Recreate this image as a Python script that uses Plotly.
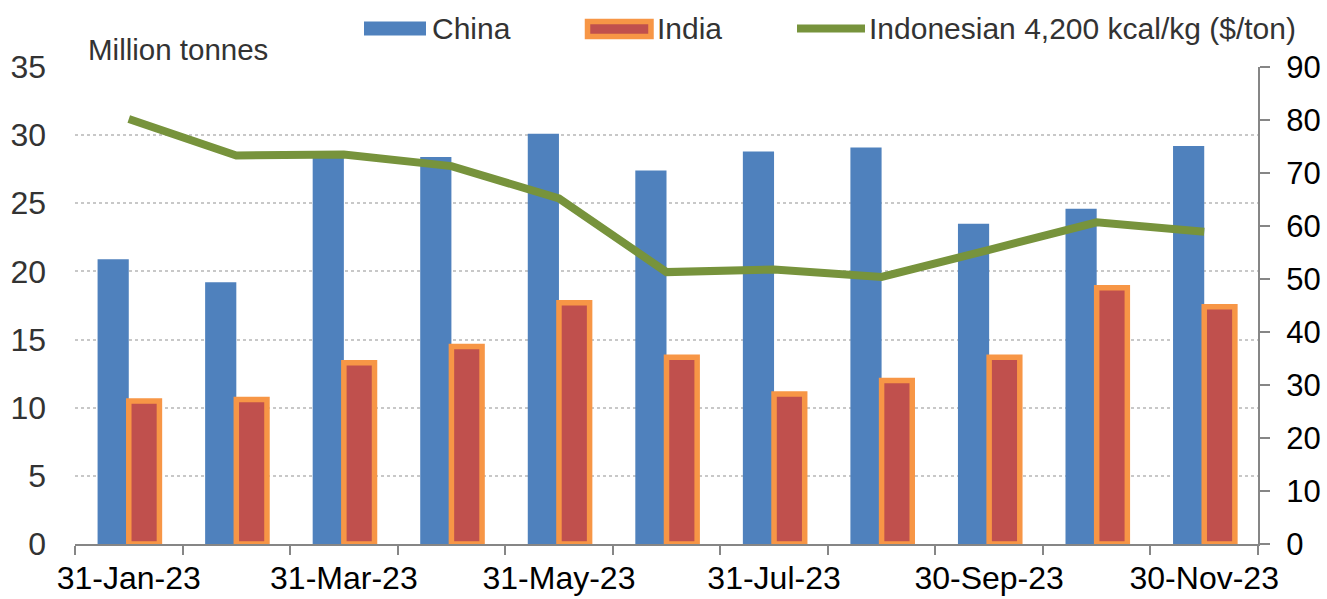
import plotly.graph_objects as go

# ---- data ----
categories = ["31-Jan-23", "28-Feb-23", "31-Mar-23", "30-Apr-23", "31-May-23", "30-Jun-23",
              "31-Jul-23", "31-Aug-23", "30-Sep-23", "31-Oct-23", "30-Nov-23"]
china = [20.9, 19.2, 28.6, 28.4, 30.1, 27.4, 28.8, 29.1, 23.5, 24.6, 29.2]
india = [10.5, 10.6, 13.3, 14.5, 17.7, 13.7, 11.0, 12.0, 13.7, 18.8, 17.4]
coal_price = [80.2, 73.3, 73.5, 71.3, 65.2, 51.3, 51.8, 50.4, 55.5, 60.7, 58.9]
left_ticks = [0, 5, 10, 15, 20, 25, 30, 35]
right_ticks = [0, 10, 20, 30, 40, 50, 60, 70, 80, 90]
label_every = 2

# ---- geometry ----
W, H = 1327, 599
PL, PR, PT, PB = 75, 1258, 66.5, 544
FONT = "Liberation Sans, Arial, sans-serif"
BLUE, RED, ORANGE, GREEN = "#4F81BD", "#C0504D", "#F79646", "#77933C"
AXIS_GRAY = "#868686"

def px(x):
    return (x - PL) / (PR - PL)

def py(y):
    return (PB - y) / (PB - PT)

xs = list(range(len(categories)))

fig = go.Figure()
fig.add_trace(go.Bar(x=xs, y=china, name="China", marker=dict(color=BLUE, line=dict(width=0)),
                     width=0.29, offset=-0.29, showlegend=False))
fig.add_trace(go.Bar(x=xs, y=india, name="India",
                     marker=dict(color=RED, line=dict(color=ORANGE, width=5.5)),
                     width=0.285, offset=0.0, showlegend=False))
fig.add_trace(go.Scatter(x=xs, y=coal_price, name="Indonesian 4,200 kcal/kg ($/ton)", mode="lines",
                         line=dict(color=GREEN, width=8), yaxis="y2", showlegend=False))

fig.update_layout(
    width=W, height=H,
    margin=dict(l=PL, r=W - PR, t=PT, b=H - PB, autoexpand=False),
    paper_bgcolor="white", plot_bgcolor="white",
    barmode="overlay",
    font=dict(family=FONT, size=30, color="#333333"),
    xaxis=dict(
        range=[-0.5, len(categories) - 0.5],
        tickmode="array",
        tickvals=xs[::label_every],
        ticktext=categories[::label_every],
        ticks="", showgrid=False, zeroline=False,
        showline=True, linecolor=AXIS_GRAY, linewidth=2,
        tickfont=dict(size=32, color="#000000"),
        ticklabelstandoff=5,
        minor=dict(tick0=-0.5, dtick=1, ticks="outside", ticklen=9, tickwidth=2,
                   tickcolor=AXIS_GRAY, showgrid=False),
    ),
    yaxis=dict(
        range=[0, 35], tickmode="array", tickvals=left_ticks,
        showgrid=True, gridcolor="#C8C8C8", gridwidth=1.5, griddash="dot",
        zeroline=False, showline=False, ticks="",
        tickfont=dict(size=32, color="#333333"),
        ticklabelstandoff=28,
    ),
    yaxis2=dict(
        range=[0, 90], tickmode="array", tickvals=right_ticks,
        overlaying="y", side="right", showgrid=False, zeroline=False,
        showline=True, linecolor=AXIS_GRAY, linewidth=2,
        ticks="outside", ticklen=10, tickwidth=2, tickcolor=AXIS_GRAY,
        tickfont=dict(size=31, color="#000000"),
        ticklabelstandoff=10,
    ),
)

shapes = [
    dict(type="rect", xref="paper", yref="paper", x0=px(364), x1=px(426), y0=py(35), y1=py(21),
         fillcolor=BLUE, line=dict(width=0)),
    dict(type="rect", xref="paper", yref="paper", x0=px(587.5), x1=px(651), y0=py(36), y1=py(21),
         fillcolor=RED, line=dict(color=ORANGE, width=5.5)),
    dict(type="line", xref="paper", yref="paper", x0=px(797), x1=px(865), y0=py(28), y1=py(28),
         line=dict(color=GREEN, width=8)),
]
annotations = [
    dict(text="China", x=px(430), y=py(28), xref="paper", yref="paper", xanchor="left", yanchor="middle",
         showarrow=False, font=dict(size=30, color="#333333")),
    dict(text="India", x=px(655), y=py(28), xref="paper", yref="paper", xanchor="left", yanchor="middle",
         showarrow=False, font=dict(size=30, color="#333333")),
    dict(text="Indonesian 4,200 kcal/kg ($/ton)", x=px(867), y=py(28), xref="paper", yref="paper",
         xanchor="left", yanchor="middle", showarrow=False, font=dict(size=30, color="#333333")),
    dict(text="Million tonnes", x=px(86), y=py(49), xref="paper", yref="paper", xanchor="left",
         yanchor="middle", showarrow=False, font=dict(size=29.5, color="#333333")),
]
fig.update_layout(shapes=shapes, annotations=annotations)

fig.write_html("out.html")
